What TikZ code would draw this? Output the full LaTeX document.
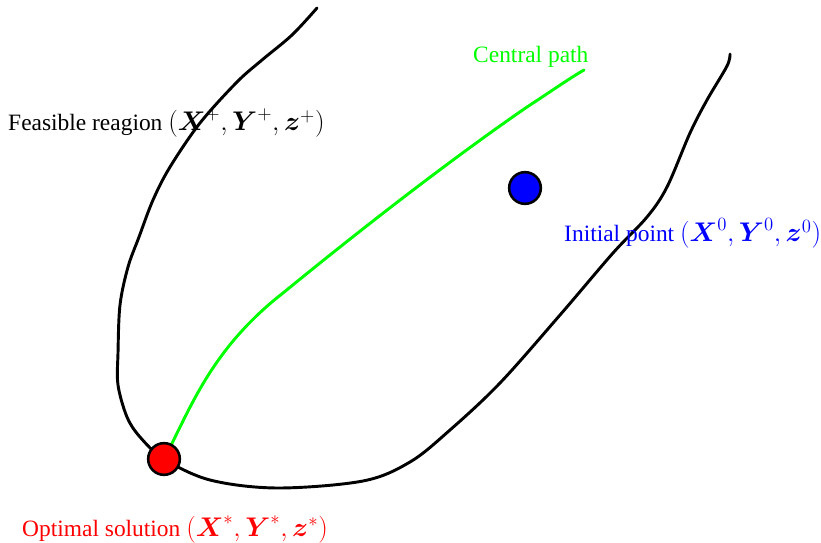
\documentclass[tikz,border=0pt]{standalone}
\usepackage{amsmath}
\usepackage{amssymb}
\usepackage{fontspec}
\setmainfont{Liberation Serif}
\usepackage{xcolor}

\newcommand{\bigmath}[1]{\scalebox{1.11}{$#1$}}

\begin{document}
\begin{tikzpicture}[x=0.03cm, y=-0.03cm]
        % Style definitions
        \tikzset{
            boundary/.style={black, line width=2.5pt, line join=round, line cap=round},
            cpath/.style={green, line width=2.5pt, line cap=round},
            point/.style={circle, draw=black, line width=2.2pt, minimum size=0.95cm, inner sep=0pt},
            lbl/.style={anchor=base west, inner sep=0pt, font=\fontsize{20}{24}\selectfont}
        }
        \useasboundingbox (0,0) rectangle (821,543);

        % ==========================================
        % FEASIBLE REGION BOUNDARY
        % ==========================================

        \draw[boundary] plot[smooth, tension=0.55] coordinates {
            (317,8) (292,35) (262,60) (237,82) (200,123)
            (170,167) (153,200) (139,237) (128,267)
            (120,305) (118,353) (118,385) (127,417)
            (140,437) (164,459) (210,480) (277,488)
            (363,481) (410,462) (450,430)
            (500,383) (560,315) (613,253) (647,217)
            (667,187) (690,133) (707,100) (727,66) (730,54)};

        % ==========================================
        % POINTS AND CENTRAL PATH
        % ==========================================

        \coordinate (pathend) at (584,70);
        \draw[cpath] (164,459) .. controls (190,410) and (210,350) .. (283,293)
            .. controls (360,230) and (450,160) .. (527,107)
            .. controls (550,92) and (570,78) .. (pathend);

        \node[point, fill=red] (opt) at (164,459) {};
        \node[point, fill=blue] (init) at (525,188) {};

        % ==========================================
        % LABELS
        % ==========================================

        \node[lbl, black] (feaslbl) at (8,131) {Feasible reagion \bigmath{(\boldsymbol{X}^+,\boldsymbol{Y}^+,\boldsymbol{z}^+)}};
        \node[lbl, blue] (initlbl) at (564,242) {Initial point \bigmath{(\boldsymbol{X}^0,\boldsymbol{Y}^0,\boldsymbol{z}^0)}};
        \node[lbl, red] (optlbl) at (22,536) {Optimal solution \bigmath{(\boldsymbol{X}^*,\boldsymbol{Y}^*,\boldsymbol{z}^*)}};
        \node[lbl, green] (pathlbl) at (473,63) {Central path};
    \end{tikzpicture}
\end{document}
